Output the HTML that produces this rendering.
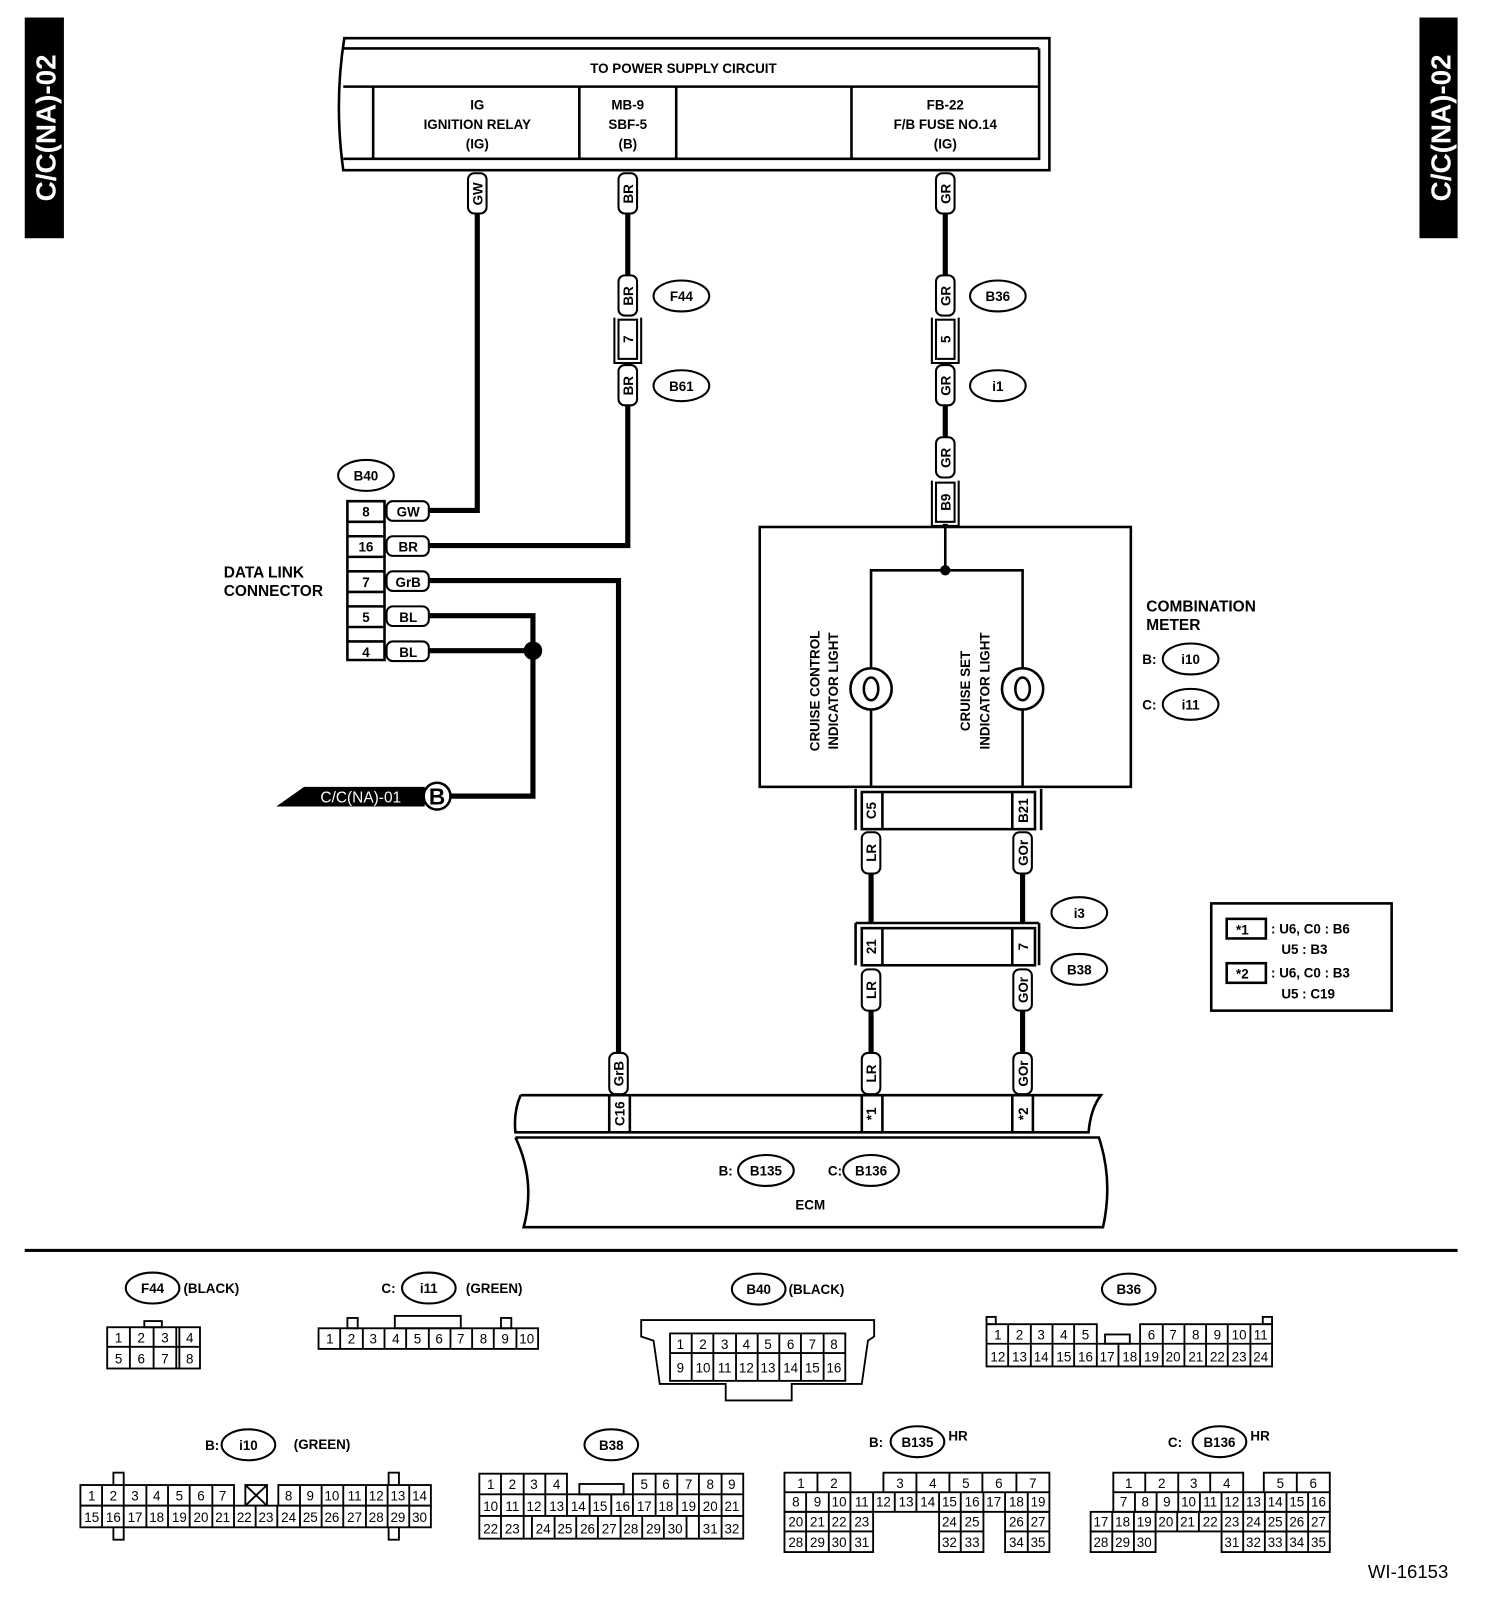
<!DOCTYPE html>
<html><head><meta charset="utf-8"><style>
html,body{margin:0;padding:0;background:#fff}
svg{display:block}
text{font-family:"Liberation Sans",sans-serif;fill:#000}
.b{font-weight:bold}
.t{font-size:15px;font-weight:bold}
.w{font-size:13px;font-weight:bold}
.g{font-size:13px}
</style></head><body>
<svg width="1504" height="1616" viewBox="0 0 1459 1567" preserveAspectRatio="none" xmlns="http://www.w3.org/2000/svg">
<rect width="1459" height="1567" fill="#fff"/>
<!-- side tabs -->
<rect x="24" y="17" width="38" height="214" fill="#000"/>
<text transform="translate(54,124) rotate(-90)" text-anchor="middle" style="font-size:27px;fill:#fff;font-weight:bold">C/C(NA)-02</text>
<rect x="1377" y="17" width="37" height="214" fill="#000"/>
<text transform="translate(1407,124) rotate(-90)" text-anchor="middle" style="font-size:27px;fill:#fff;font-weight:bold">C/C(NA)-02</text>

<!-- top box -->
<g fill="none" stroke="#000" stroke-width="2.5">
<path d="M1018,37 H334 Q324,100 333,165 H1018 Z"/>
<path d="M1008,47 H333 M1008,47 V154 H333 M333,84 H1008"/>
<path d="M362,84 V154 M562,84 V154 M656,84 V154 M826,84 V154"/>
</g>
<text x="663" y="71" text-anchor="middle" class="w">TO POWER SUPPLY CIRCUIT</text>
<g class="w" text-anchor="middle">
<text x="463" y="106">IG</text><text x="463" y="125">IGNITION RELAY</text><text x="463" y="144">(IG)</text>
<text x="609" y="106">MB-9</text><text x="609" y="125">SBF-5</text><text x="609" y="144">(B)</text>
<text x="917" y="106">FB-22</text><text x="917" y="125">F/B FUSE NO.14</text><text x="917" y="144">(IG)</text>
</g>

<!-- wires -->
<g fill="none" stroke="#000" stroke-width="5">
<path d="M463,207 V495 H414"/>
<path d="M609,207 V268 M609,393 V529 H414"/>
<path d="M917,207 V268 M917,393 V425 M917,508 V512"/>
<path d="M414,563 H600 V1022"/>
<path d="M414,597 H517 V772 H436 M414,631 H517"/>
<path d="M845,847 V895 M992,847 V895 M845,980 V1022 M992,980 V1022"/>
</g>
<circle cx="517" cy="631" r="9" fill="#000"/>

<!-- vertical pills -->
<g fill="#fff" stroke="#000" stroke-width="2">
<rect x="454" y="168" width="18" height="39" rx="6"/>
<rect x="600" y="168" width="18" height="39" rx="6"/>
<rect x="908" y="168" width="18" height="39" rx="6"/>
<rect x="600" y="267" width="18" height="39" rx="6"/>
<rect x="600" y="354" width="18" height="39" rx="6"/>
<rect x="908" y="267" width="18" height="39" rx="6"/>
<rect x="908" y="354" width="18" height="39" rx="6"/>
<rect x="908" y="424" width="18" height="39" rx="6"/>
<rect x="836" y="807" width="18" height="40" rx="6"/>
<rect x="983" y="807" width="18" height="40" rx="6"/>
<rect x="836" y="940" width="18" height="40" rx="6"/>
<rect x="983" y="940" width="18" height="40" rx="6"/>
<rect x="836" y="1021" width="18" height="40" rx="6"/>
<rect x="983" y="1021" width="18" height="40" rx="6"/>
<rect x="591" y="1021" width="18" height="40" rx="6"/>
</g>
<g class="w" text-anchor="middle">
<text transform="translate(468,188) rotate(-90)">GW</text>
<text transform="translate(614,188) rotate(-90)">BR</text>
<text transform="translate(922,188) rotate(-90)">GR</text>
<text transform="translate(614,287) rotate(-90)">BR</text>
<text transform="translate(614,374) rotate(-90)">BR</text>
<text transform="translate(922,287) rotate(-90)">GR</text>
<text transform="translate(922,374) rotate(-90)">GR</text>
<text transform="translate(922,444) rotate(-90)">GR</text>
<text transform="translate(850,827) rotate(-90)">LR</text>
<text transform="translate(997,827) rotate(-90)">GOr</text>
<text transform="translate(850,960) rotate(-90)">LR</text>
<text transform="translate(997,960) rotate(-90)">GOr</text>
<text transform="translate(850,1041) rotate(-90)">LR</text>
<text transform="translate(997,1041) rotate(-90)">GOr</text>
<text transform="translate(605,1041) rotate(-90)">GrB</text>
</g>

<!-- inline connectors 7,5,B9 -->
<g fill="#fff" stroke="#000" stroke-width="2">
<rect x="600" y="310" width="18" height="38"/>
<path d="M596,308 V352 H622 V308" fill="none"/>
<rect x="908" y="310" width="18" height="38"/>
<path d="M904,308 V352 H930 V308" fill="none"/>
<rect x="908" y="468" width="18" height="38"/>
<path d="M904,466 V510 H930 V466" fill="none"/>
</g>
<g class="w" text-anchor="middle">
<text transform="translate(614,329) rotate(-90)">7</text>
<text transform="translate(922,329) rotate(-90)">5</text>
<text transform="translate(922,487) rotate(-90)">B9</text>
</g>

<!-- ovals -->
<g fill="#fff" stroke="#000" stroke-width="2">
<ellipse cx="661" cy="287" rx="27" ry="15"/>
<ellipse cx="661" cy="374" rx="27" ry="15"/>
<ellipse cx="968" cy="287" rx="27" ry="15"/>
<ellipse cx="968" cy="374" rx="27" ry="15"/>
<ellipse cx="355" cy="461" rx="27" ry="15"/>
<ellipse cx="1155" cy="639" rx="27" ry="15"/>
<ellipse cx="1155" cy="683" rx="27" ry="15"/>
<ellipse cx="1047" cy="885" rx="27" ry="15"/>
<ellipse cx="1047" cy="940" rx="27" ry="15"/>
<ellipse cx="743" cy="1135" rx="27" ry="15"/>
<ellipse cx="845" cy="1135" rx="27" ry="15"/>
</g>
<g class="w" text-anchor="middle">
<text x="661" y="292">F44</text><text x="661" y="379">B61</text>
<text x="968" y="292">B36</text><text x="968" y="379">i1</text>
<text x="355" y="466">B40</text>
<text x="1155" y="644">i10</text><text x="1155" y="688">i11</text>
<text x="1047" y="890">i3</text><text x="1047" y="945">B38</text>
<text x="743" y="1140">B135</text><text x="845" y="1140">B136</text>
<text x="1115" y="644">B:</text><text x="1115" y="688">C:</text>
<text x="704" y="1140">B:</text><text x="810" y="1140">C:</text>
<text x="786" y="1173">ECM</text>
</g>

<!-- B40 data link connector -->
<g fill="#fff" stroke="#000" stroke-width="2.5">
<path d="M337,486 H373 V640 H337 Z"/>
<path d="M337,506 H373 M337,520 H373 M337,540 H373 M337,554 H373 M337,574 H373 M337,588 H373 M337,608 H373 M337,622 H373" fill="none"/>
</g>
<g fill="#fff" stroke="#000" stroke-width="2">
<rect x="375" y="486" width="41" height="19" rx="6"/>
<rect x="375" y="520" width="41" height="19" rx="6"/>
<rect x="375" y="554" width="41" height="19" rx="6"/>
<rect x="375" y="588" width="41" height="19" rx="6"/>
<rect x="375" y="622" width="41" height="19" rx="6"/>
</g>
<g class="w" text-anchor="middle">
<text x="355" y="501">8</text><text x="355" y="535">16</text><text x="355" y="569">7</text><text x="355" y="603">5</text><text x="355" y="637">4</text>
<text x="396" y="501">GW</text><text x="396" y="535">BR</text><text x="396" y="569">GrB</text><text x="396" y="603">BL</text><text x="396" y="637">BL</text>
</g>
<text x="217" y="560" class="t">DATA LINK</text>
<text x="217" y="578" class="t">CONNECTOR</text>

<!-- C/C(NA)-01 -->
<polygon points="268,782 295,763 412,763 412,782" fill="#000"/>
<text x="350" y="778" text-anchor="middle" style="font-size:15px;fill:#fff">C/C(NA)-01</text>
<circle cx="424" cy="772" r="13" fill="#fff" stroke="#000" stroke-width="2.5"/>
<text x="424" y="780" text-anchor="middle" style="font-size:22px;font-weight:bold">B</text>

<!-- combination meter -->
<g fill="none" stroke="#000" stroke-width="2.5">
<rect x="737" y="511" width="360" height="252"/>
<path d="M917,508 V553 M845,763 V553 H992 V763"/>
<circle cx="845" cy="668" r="20" fill="#fff"/>
<circle cx="992" cy="668" r="20" fill="#fff"/>
<ellipse cx="845" cy="668" rx="7" ry="11"/>
<ellipse cx="992" cy="668" rx="7" ry="11"/>
</g>
<circle cx="917" cy="553" r="5" fill="#000"/>
<g class="w" text-anchor="middle">
<text transform="translate(795,670) rotate(-90)">CRUISE CONTROL</text>
<text transform="translate(813,670) rotate(-90)">INDICATOR LIGHT</text>
<text transform="translate(941,670) rotate(-90)">CRUISE SET</text>
<text transform="translate(960,670) rotate(-90)">INDICATOR LIGHT</text>
</g>
<text x="1112" y="593" class="t">COMBINATION</text>
<text x="1112" y="611" class="t">METER</text>

<!-- C5/B21 connector -->
<g fill="none" stroke="#000" stroke-width="2.5">
<path d="M830,765 V805 M1010,765 V805"/>
<rect x="836" y="768" width="168" height="36" fill="#fff"/>
<path d="M856,768 V804 M982,768 V804"/>
<path d="M830,895 H1008 M830,895 V936 M1008,895 V936"/>
<rect x="836" y="900" width="168" height="36" fill="#fff"/>
<path d="M856,900 V936 M982,900 V936"/>
</g>
<g class="w" text-anchor="middle">
<text transform="translate(850,786) rotate(-90)">C5</text>
<text transform="translate(997,786) rotate(-90)">B21</text>
<text transform="translate(850,918) rotate(-90)">21</text>
<text transform="translate(997,918) rotate(-90)">7</text>
</g>

<!-- ECM -->
<g fill="none" stroke="#000" stroke-width="2.5">
<path d="M505,1062 H1068 Q1058,1075 1056,1098 H500 Q498,1078 505,1062"/>
<path d="M500,1103 H1066 Q1080,1145 1070,1190 H508 Q520,1145 500,1103"/>
<path d="M591,1062 V1098 M611,1062 V1098 M836,1062 V1098 M856,1062 V1098 M982,1062 V1098 M1002,1062 V1098"/>
</g>
<g class="w" text-anchor="middle">
<text transform="translate(606,1080) rotate(-90)">C16</text>
<text transform="translate(850,1080) rotate(-90)">*1</text>
<text transform="translate(997,1080) rotate(-90)">*2</text>
</g>

<!-- legend -->
<g fill="none" stroke="#000" stroke-width="2.5">
<rect x="1175" y="876" width="175" height="104"/>
<rect x="1190" y="891" width="38" height="19"/>
<rect x="1190" y="934" width="38" height="19"/>
</g>
<g class="w">
<text x="1199" y="906">*1</text><text x="1233" y="905">: U6, C0 : B6</text><text x="1243" y="925">U5 : B3</text>
<text x="1199" y="949">*2</text><text x="1233" y="948">: U6, C0 : B3</text><text x="1243" y="968">U5 : C19</text>
</g>

<!-- divider -->
<rect x="24" y="1211" width="1390" height="3" fill="#000"/>
<text x="1405" y="1530" text-anchor="end" style="font-size:18px">WI-16153</text>

<!-- bottom connector headers -->
<g fill="#fff" stroke="#000" stroke-width="2">
<ellipse cx="148" cy="1249" rx="26" ry="15"/>
<ellipse cx="416" cy="1249" rx="26" ry="15"/>
<ellipse cx="736" cy="1250" rx="26" ry="15"/>
<ellipse cx="1095" cy="1250" rx="26" ry="15"/>
<ellipse cx="241" cy="1401" rx="26" ry="15"/>
<ellipse cx="593" cy="1401" rx="26" ry="15"/>
<ellipse cx="890" cy="1398" rx="26" ry="15"/>
<ellipse cx="1183" cy="1398" rx="26" ry="15"/>
</g>
<g class="w">
<text x="148" y="1254" text-anchor="middle">F44</text><text x="178" y="1254">(BLACK)</text>
<text x="370" y="1254">C:</text><text x="416" y="1254" text-anchor="middle">i11</text><text x="452" y="1254">(GREEN)</text>
<text x="736" y="1255" text-anchor="middle">B40</text><text x="765" y="1255">(BLACK)</text>
<text x="1095" y="1255" text-anchor="middle">B36</text>
<text x="199" y="1406">B:</text><text x="241" y="1406" text-anchor="middle">i10</text><text x="285" y="1405">(GREEN)</text>
<text x="593" y="1406" text-anchor="middle">B38</text>
<text x="843" y="1403">B:</text><text x="890" y="1403" text-anchor="middle">B135</text><text x="920" y="1397">HR</text>
<text x="1133" y="1403">C:</text><text x="1183" y="1403" text-anchor="middle">B136</text><text x="1213" y="1397">HR</text>
</g>

<g fill="none" stroke="#000" stroke-width="1.8">
<!-- F44 -->
<rect x="140" y="1281" width="17" height="6"/>
<rect x="104" y="1287" width="90" height="40"/>
<path d="M104,1306 H194 M126,1287 V1327 M149,1287 V1327 M171,1287 V1327 M174,1287 V1327"/>
<!-- i11 -->
<rect x="337" y="1278" width="10" height="10"/><rect x="383" y="1276" width="64" height="12"/><rect x="486" y="1278" width="10" height="10"/>
<rect x="309" y="1288" width="213" height="20"/>
<path d="M330,1288 V1308 M352,1288 V1308 M373,1288 V1308 M394,1288 V1308 M416,1288 V1308 M437,1288 V1308 M458,1288 V1308 M479,1288 V1308 M501,1288 V1308"/>
<!-- B40 -->
<polygon points="628,1280 848,1280 848,1296 842,1300 836,1342 768,1342 768,1358 704,1358 704,1342 640,1342 634,1300 622,1296 622,1280"/>
<rect x="650" y="1293" width="170" height="46"/>
<path d="M650,1312 H820 M671,1293 V1339 M692,1293 V1339 M714,1293 V1339 M735,1293 V1339 M756,1293 V1339 M777,1293 V1339 M799,1293 V1339"/>
<!-- B36 -->
<rect x="957" y="1277" width="9" height="7"/><rect x="1225" y="1277" width="9" height="7"/><rect x="1072" y="1294" width="24" height="9"/>
<path d="M957,1284 H1064 V1303 M1106,1303 V1284 H1234 M957,1284 V1325 H1234 V1284 M957,1303 H1234"/>
<path d="M978,1284 V1325 M1000,1284 V1325 M1021,1284 V1325 M1042,1284 V1325 M1064,1303 V1325 M1085,1303 V1325 M1106,1303 V1325 M1128,1284 V1325 M1149,1284 V1325 M1170,1284 V1325 M1191,1284 V1325 M1213,1284 V1325"/>
<!-- i10 -->
<rect x="110" y="1428" width="10" height="65"/><rect x="377" y="1428" width="10" height="65"/>
<rect x="78" y="1440" width="149" height="20" fill="#fff"/><rect x="270" y="1440" width="148" height="20" fill="#fff"/>
<rect x="238" y="1440" width="21" height="20"/><path d="M238,1440 L259,1460 M259,1440 L238,1460"/>
<rect x="78" y="1460" width="340" height="21" fill="#fff"/>
<path d="M99,1440 V1460 M120,1440 V1460 M142,1440 V1460 M163,1440 V1460 M184,1440 V1460 M206,1440 V1460 M291,1440 V1460 M312,1440 V1460 M333,1440 V1460 M355,1440 V1460 M376,1440 V1460 M397,1440 V1460"/>
<path d="M99,1460 V1481 M120,1460 V1481 M142,1460 V1481 M163,1460 V1481 M184,1460 V1481 M206,1460 V1481 M227,1460 V1481 M248,1460 V1481 M269,1460 V1481 M291,1460 V1481 M312,1460 V1481 M333,1460 V1481 M355,1460 V1481 M376,1460 V1481 M397,1460 V1481"/>
<!-- B38 -->
<rect x="562" y="1439" width="43" height="10"/>
<path d="M465,1449 V1429 H550 V1449 M614,1449 V1429 H721 V1449"/>
<rect x="465" y="1449" width="256" height="43"/>
<path d="M465,1470 H721"/>
<path d="M486,1429 V1492 M508,1429 V1470 M529,1429 V1449 M636,1429 V1470 M657,1429 V1470 M678,1429 V1470 M700,1429 V1492 M529,1449 V1470 M550,1449 V1470 M572,1449 V1470 M593,1449 V1470 M614,1449 V1470"/>
<path d="M508,1470 V1492 M516,1470 V1492 M538,1470 V1492 M559,1470 V1492 M580,1470 V1492 M602,1470 V1492 M623,1470 V1492 M644,1470 V1492 M666,1470 V1492 M678,1470 V1492"/>
<!-- B135 -->
<path d="M761,1447 V1428 H825 V1447 M857,1447 V1428 H1018 V1447 M793,1428 V1447 M889,1428 V1447 M921,1428 V1447 M953,1428 V1447 M986,1428 V1447"/>
<rect x="761" y="1447" width="257" height="19"/>
<path d="M782,1447 V1466 M804,1447 V1466 M825,1447 V1466 M847,1447 V1466 M868,1447 V1466 M889,1447 V1466 M911,1447 V1466 M932,1447 V1466 M954,1447 V1466 M975,1447 V1466 M997,1447 V1466"/>
<rect x="761" y="1466" width="86" height="39"/><path d="M761,1485 H847 M782,1466 V1505 M804,1466 V1505 M825,1466 V1505"/>
<rect x="911" y="1466" width="43" height="39"/><path d="M911,1485 H954 M932,1466 V1505"/>
<rect x="975" y="1466" width="43" height="39"/><path d="M975,1485 H1018 M997,1466 V1505"/>
<!-- B136 -->
<path d="M1080,1447 V1428 H1206 V1447 M1226,1447 V1428 H1290 V1447 M1111,1428 V1447 M1143,1428 V1447 M1174,1428 V1447 M1258,1428 V1447"/>
<rect x="1080" y="1447" width="210" height="19"/>
<path d="M1101,1447 V1466 M1122,1447 V1466 M1143,1447 V1466 M1164,1447 V1466 M1185,1447 V1466 M1206,1447 V1466 M1227,1447 V1466 M1248,1447 V1466 M1269,1447 V1466"/>
<rect x="1058" y="1466" width="232" height="19"/>
<path d="M1079,1466 V1485 M1100,1466 V1485 M1121,1466 V1485 M1142,1466 V1485 M1163,1466 V1485 M1185,1466 V1485 M1206,1466 V1485 M1227,1466 V1485 M1248,1466 V1485 M1269,1466 V1485"/>
<rect x="1058" y="1485" width="63" height="20"/><path d="M1079,1485 V1505 M1100,1485 V1505"/>
<rect x="1185" y="1485" width="105" height="20"/><path d="M1206,1485 V1505 M1227,1485 V1505 M1248,1485 V1505 M1269,1485 V1505"/>
</g>

<g class="g" text-anchor="middle">
<!-- F44 -->
<text x="115" y="1302">1</text><text x="137" y="1302">2</text><text x="160" y="1302">3</text><text x="184" y="1302">4</text>
<text x="115" y="1322">5</text><text x="137" y="1322">6</text><text x="160" y="1322">7</text><text x="184" y="1322">8</text>
<!-- i11 -->
<text x="320" y="1303">1</text><text x="341" y="1303">2</text><text x="362" y="1303">3</text><text x="384" y="1303">4</text><text x="405" y="1303">5</text><text x="426" y="1303">6</text><text x="447" y="1303">7</text><text x="469" y="1303">8</text><text x="490" y="1303">9</text><text x="511" y="1303">10</text>
<!-- B40 -->
<text x="660" y="1308">1</text><text x="682" y="1308">2</text><text x="703" y="1308">3</text><text x="724" y="1308">4</text><text x="745" y="1308">5</text><text x="767" y="1308">6</text><text x="788" y="1308">7</text><text x="809" y="1308">8</text>
<text x="660" y="1331">9</text><text x="682" y="1331">10</text><text x="703" y="1331">11</text><text x="724" y="1331">12</text><text x="745" y="1331">13</text><text x="767" y="1331">14</text><text x="788" y="1331">15</text><text x="809" y="1331">16</text>
<!-- B36 -->
<text x="968" y="1299">1</text><text x="989" y="1299">2</text><text x="1010" y="1299">3</text><text x="1032" y="1299">4</text><text x="1053" y="1299">5</text>
<text x="1117" y="1299">6</text><text x="1138" y="1299">7</text><text x="1160" y="1299">8</text><text x="1181" y="1299">9</text><text x="1202" y="1299">10</text><text x="1223" y="1299">11</text>
<text x="968" y="1320">12</text><text x="989" y="1320">13</text><text x="1010" y="1320">14</text><text x="1032" y="1320">15</text><text x="1053" y="1320">16</text><text x="1074" y="1320">17</text><text x="1096" y="1320">18</text><text x="1117" y="1320">19</text><text x="1138" y="1320">20</text><text x="1160" y="1320">21</text><text x="1181" y="1320">22</text><text x="1202" y="1320">23</text><text x="1223" y="1320">24</text>
<!-- i10 -->
<text x="89" y="1455">1</text><text x="110" y="1455">2</text><text x="131" y="1455">3</text><text x="152" y="1455">4</text><text x="174" y="1455">5</text><text x="195" y="1455">6</text><text x="216" y="1455">7</text>
<text x="280" y="1455">8</text><text x="301" y="1455">9</text><text x="322" y="1455">10</text><text x="344" y="1455">11</text><text x="365" y="1455">12</text><text x="386" y="1455">13</text><text x="407" y="1455">14</text>
<text x="89" y="1476">15</text><text x="110" y="1476">16</text><text x="131" y="1476">17</text><text x="152" y="1476">18</text><text x="174" y="1476">19</text><text x="195" y="1476">20</text><text x="216" y="1476">21</text><text x="237" y="1476">22</text><text x="258" y="1476">23</text><text x="280" y="1476">24</text><text x="301" y="1476">25</text><text x="322" y="1476">26</text><text x="344" y="1476">27</text><text x="365" y="1476">28</text><text x="386" y="1476">29</text><text x="407" y="1476">30</text>
<!-- B38 -->
<text x="476" y="1444">1</text><text x="497" y="1444">2</text><text x="518" y="1444">3</text><text x="540" y="1444">4</text>
<text x="625" y="1444">5</text><text x="646" y="1444">6</text><text x="668" y="1444">7</text><text x="689" y="1444">8</text><text x="710" y="1444">9</text>
<text x="476" y="1465">10</text><text x="497" y="1465">11</text><text x="518" y="1465">12</text><text x="540" y="1465">13</text><text x="561" y="1465">14</text><text x="582" y="1465">15</text><text x="604" y="1465">16</text><text x="625" y="1465">17</text><text x="646" y="1465">18</text><text x="668" y="1465">19</text><text x="689" y="1465">20</text><text x="710" y="1465">21</text>
<text x="476" y="1487">22</text><text x="497" y="1487">23</text><text x="527" y="1487">24</text><text x="548" y="1487">25</text><text x="570" y="1487">26</text><text x="591" y="1487">27</text><text x="612" y="1487">28</text><text x="634" y="1487">29</text><text x="655" y="1487">30</text><text x="689" y="1487">31</text><text x="710" y="1487">32</text>
<!-- B135 -->
<text x="777" y="1443">1</text><text x="809" y="1443">2</text><text x="873" y="1443">3</text><text x="905" y="1443">4</text><text x="937" y="1443">5</text><text x="969" y="1443">6</text><text x="1002" y="1443">7</text>
<text x="772" y="1461">8</text><text x="793" y="1461">9</text><text x="814" y="1461">10</text><text x="836" y="1461">11</text><text x="857" y="1461">12</text><text x="879" y="1461">13</text><text x="900" y="1461">14</text><text x="921" y="1461">15</text><text x="943" y="1461">16</text><text x="964" y="1461">17</text><text x="986" y="1461">18</text><text x="1007" y="1461">19</text>
<text x="772" y="1480">20</text><text x="793" y="1480">21</text><text x="814" y="1480">22</text><text x="836" y="1480">23</text><text x="921" y="1480">24</text><text x="943" y="1480">25</text><text x="986" y="1480">26</text><text x="1007" y="1480">27</text>
<text x="772" y="1500">28</text><text x="793" y="1500">29</text><text x="814" y="1500">30</text><text x="836" y="1500">31</text><text x="921" y="1500">32</text><text x="943" y="1500">33</text><text x="986" y="1500">34</text><text x="1007" y="1500">35</text>
<!-- B136 -->
<text x="1095" y="1443">1</text><text x="1127" y="1443">2</text><text x="1158" y="1443">3</text><text x="1190" y="1443">4</text><text x="1242" y="1443">5</text><text x="1274" y="1443">6</text>
<text x="1090" y="1461">7</text><text x="1111" y="1461">8</text><text x="1132" y="1461">9</text><text x="1153" y="1461">10</text><text x="1174" y="1461">11</text><text x="1195" y="1461">12</text><text x="1216" y="1461">13</text><text x="1237" y="1461">14</text><text x="1258" y="1461">15</text><text x="1279" y="1461">16</text>
<text x="1068" y="1480">17</text><text x="1089" y="1480">18</text><text x="1110" y="1480">19</text><text x="1131" y="1480">20</text><text x="1152" y="1480">21</text><text x="1174" y="1480">22</text><text x="1195" y="1480">23</text><text x="1216" y="1480">24</text><text x="1237" y="1480">25</text><text x="1258" y="1480">26</text><text x="1279" y="1480">27</text>
<text x="1068" y="1500">28</text><text x="1089" y="1500">29</text><text x="1110" y="1500">30</text><text x="1195" y="1500">31</text><text x="1216" y="1500">32</text><text x="1237" y="1500">33</text><text x="1258" y="1500">34</text><text x="1279" y="1500">35</text>
</g>
</svg>
</body></html>
